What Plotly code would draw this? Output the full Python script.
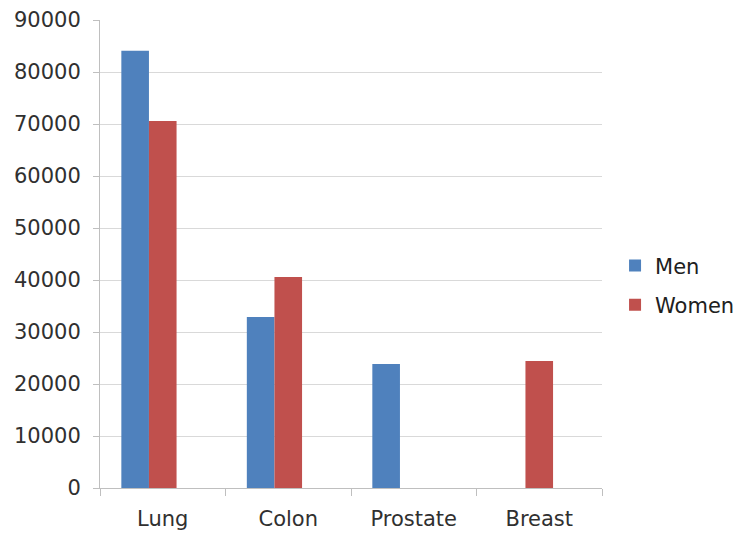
import plotly.graph_objects as go

categories = ["Lung", "Colon", "Prostate", "Breast"]
men = [84100, 32900, 23850, None]
women = [70600, 40600, None, 24400]
y_ticks = [0, 10000, 20000, 30000, 40000, 50000, 60000, 70000, 80000, 90000]

BAR_W = 0.22
SHIFT = 0.11  # bars sit slightly left of the category centre in the reference

fig = go.Figure()
fig.add_trace(go.Bar(name="Men", x=categories, y=men, marker_color="#4F81BD",
                     marker_line_width=0,
                     legendgroup="m", width=BAR_W, offset=-BAR_W - SHIFT))
fig.add_trace(go.Bar(name="Women", x=categories, y=women, marker_color="#C0504D",
                     marker_line_width=0,
                     legendgroup="w", width=BAR_W, offset=-SHIFT))

font_family = "DejaVu Sans, sans-serif"
# page body has an 8px margin, so the figure is sized to fit inside the window
fig.update_layout(
    width=734, height=527,
    margin=dict(l=92, r=140, t=12, b=47, autoexpand=False),
    paper_bgcolor="white", plot_bgcolor="white",
    barmode="group",
    font=dict(family=font_family, size=21, color="#303030"),
    showlegend=True,
    legend=dict(x=1.026, y=0.433, xanchor="left", yanchor="middle",
                font=dict(size=21, color="#202020"), tracegroupgap=9,
                itemwidth=30, bgcolor="rgba(0,0,0,0)"),
)
fig.update_xaxes(
    automargin=False,
    showgrid=False, showline=True, linecolor="#BFBFBF", linewidth=1,
    ticks="outside", tickson="boundaries", ticklen=7, tickcolor="#BFBFBF",
    ticklabelstandoff=12,
    tickfont=dict(size=21, color="#303030"),
)
fig.update_yaxes(
    automargin=False,
    range=[0, 90000], tickvals=y_ticks, ticktext=[str(v) for v in y_ticks],
    showgrid=True, gridcolor="#D9D9D9", gridwidth=1,
    showline=True, linecolor="#BFBFBF", linewidth=1,
    ticks="outside", ticklen=6, tickcolor="#BFBFBF", zeroline=False,
    ticklabelstandoff=8,
    tickfont=dict(size=21, color="#303030"),
)

fig.write_html("out.html")
